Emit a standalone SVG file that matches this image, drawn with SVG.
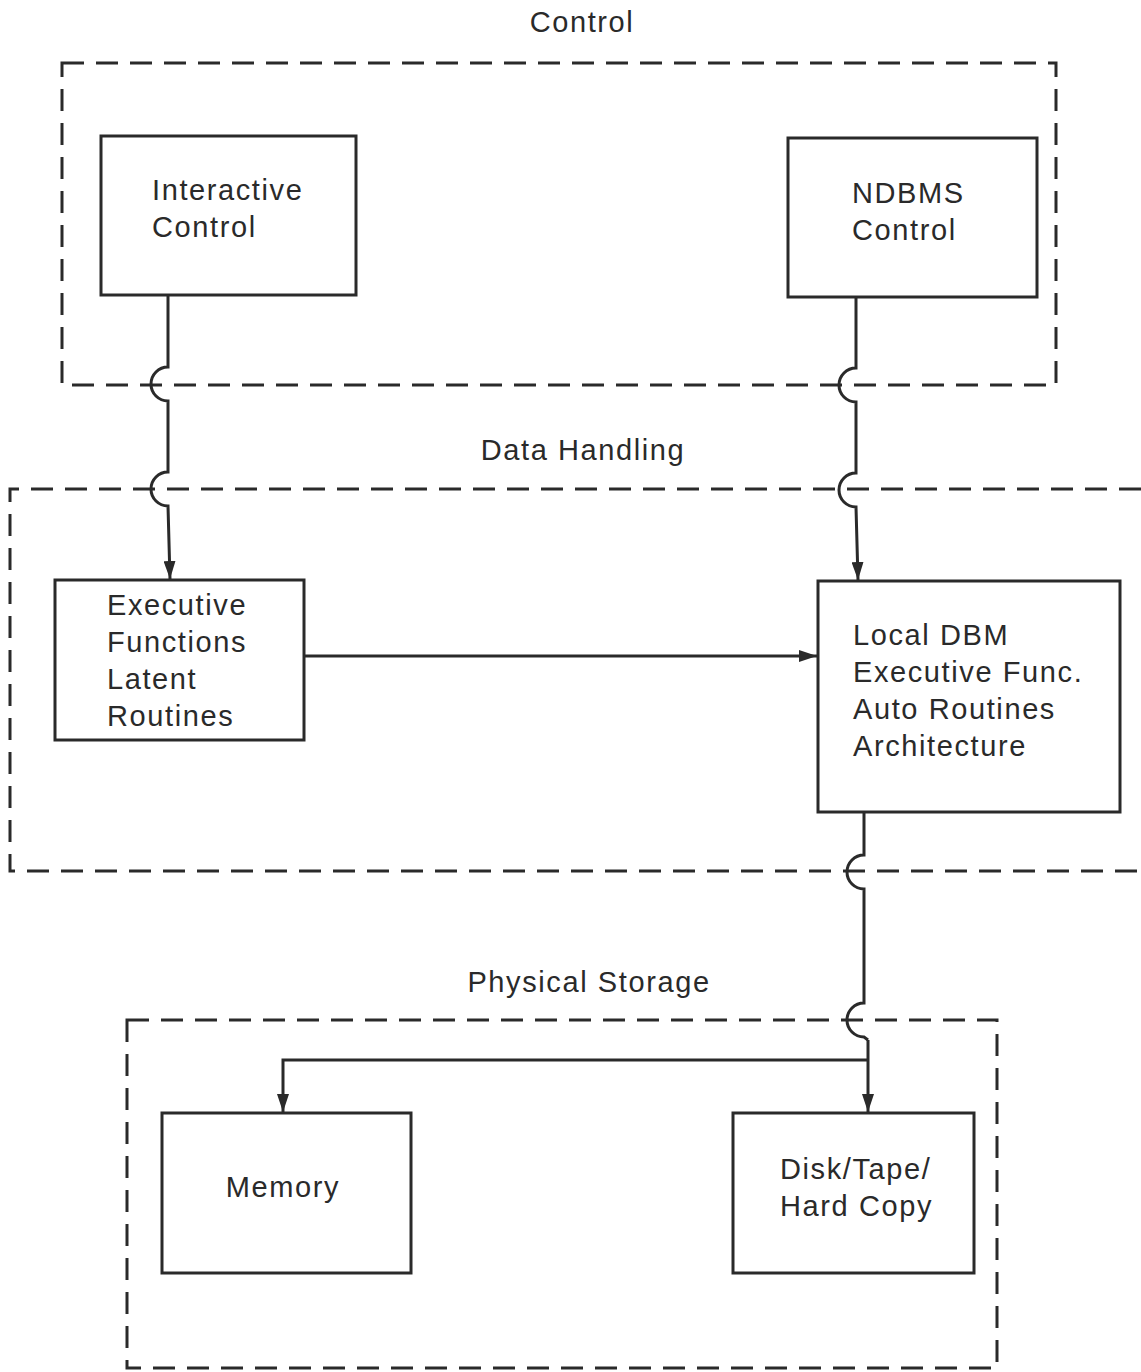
<svg xmlns="http://www.w3.org/2000/svg" width="1141" height="1372" viewBox="0 0 1141 1372">
<style>
.box{fill:none;stroke:#2a2a2a;stroke-width:3}
.dash{fill:none;stroke:#2a2a2a;stroke-width:3;stroke-dasharray:22 12}
.wire{fill:none;stroke:#2a2a2a;stroke-width:3}
text{font-family:"Liberation Sans",Arial,sans-serif;font-size:29px;fill:#2a2a2a;letter-spacing:1.6px}
</style>
<defs>
<marker id="ah" viewBox="0 0 18 12" refX="18" refY="6" markerWidth="18" markerHeight="12" markerUnits="userSpaceOnUse" orient="auto">
<path d="M0,0 L18,6 L0,12 Z" fill="#2a2a2a"/>
</marker>
</defs>
<rect width="1141" height="1372" fill="#fff"/>
<g id="regions">
<rect class="dash" x="62" y="63" width="994" height="322"/>
<path class="dash" d="M1141,489 H10 V871 H1141"/>
<rect class="dash" x="127" y="1020" width="870" height="348"/>
<text x="582" y="32" text-anchor="middle">Control</text>
<text x="583" y="460" text-anchor="middle">Data Handling</text>
<text x="589" y="992" text-anchor="middle">Physical Storage</text>
</g>
<g id="interactive-control">
<rect class="box" x="101" y="136" width="255" height="159"/>
<text x="152" y="200">Interactive</text>
<text x="152" y="237">Control</text>
</g>
<g id="ndbms-control">
<rect class="box" x="788" y="138" width="249" height="159"/>
<text x="852" y="203">NDBMS</text>
<text x="852" y="240">Control</text>
</g>
<g id="executive-functions">
<rect class="box" x="55" y="580" width="249" height="160"/>
<text x="107" y="615">Executive</text>
<text x="107" y="652">Functions</text>
<text x="107" y="689">Latent</text>
<text x="107" y="726">Routines</text>
</g>
<g id="local-dbm">
<rect class="box" x="818" y="581" width="302" height="231"/>
<text x="853" y="645">Local DBM</text>
<text x="853" y="682">Executive Func.</text>
<text x="853" y="719">Auto Routines</text>
<text x="853" y="756">Architecture</text>
</g>
<g id="memory">
<rect class="box" x="162" y="1113" width="249" height="160"/>
<text x="283" y="1197" text-anchor="middle">Memory</text>
</g>
<g id="disk-tape">
<rect class="box" x="733" y="1113" width="241" height="160"/>
<text x="780" y="1179">Disk/Tape/</text>
<text x="780" y="1216">Hard Copy</text>
</g>
<g id="connectors">
<path class="wire" marker-end="url(#ah)" d="M168,295 V367 A17,17 0 0 0 168,401 V472 A17,17 0 0 0 168,506 L170,579"/>
<path class="wire" marker-end="url(#ah)" d="M856,297 V368 A17,17 0 0 0 856,402 V473 A17,17 0 0 0 856,507 L858,580"/>
<path class="wire" marker-end="url(#ah)" d="M304,656 H817"/>
<path class="wire" d="M864,812 V855 A17,17 0 0 0 864,889 V1003 A17,17 0 0 0 864,1037 L868,1040"/>
<path class="wire" marker-end="url(#ah)" d="M868,1040 V1112"/>
<path class="wire" marker-end="url(#ah)" d="M868,1060 H283 V1112"/>
</g>
</svg>
